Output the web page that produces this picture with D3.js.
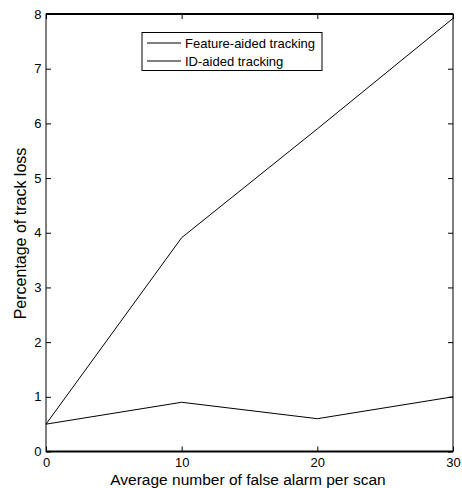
<!DOCTYPE html>
<html><head><meta charset="utf-8">
<script src="https://d3js.org/d3.v7.min.js"></script>
<style>body{margin:0;background:#fff}text{font-family:"Liberation Sans",Arial,sans-serif}</style>
</head><body><svg id="c" width="462" height="488"></svg>
<script>
const xValues = [0, 10, 20, 30];
const featureAided = [0.5, 3.91, 5.9, 7.92];
const idAided = [0.5, 0.9, 0.6, 1.0];
const xTicks = [0, 10, 20, 30];
const yTicks = [0, 1, 2, 3, 4, 5, 6, 7, 8];
const seriesNames = ["Feature-aided tracking", "ID-aided tracking"];

const svg = d3.select("#c");
const L = 46, R = 453, T = 14, B = 451.5;
const x = d3.scaleLinear().domain([0, 30]).range([L, R]);
const y = d3.scaleLinear().domain([0, 8]).range([B, T]);
const fs = 13;

const g = svg.append("g");
g.append("rect").attr("x", L).attr("y", T).attr("width", R - L).attr("height", B - T)
  .attr("fill", "none").attr("stroke", "#000").attr("stroke-width", 1);
g.append("line").attr("x1", L).attr("x2", R).attr("y1", T).attr("y2", T).attr("stroke", "#000").attr("stroke-width", 2);
g.append("line").attr("x1", L).attr("x2", R).attr("y1", B).attr("y2", B).attr("stroke", "#000").attr("stroke-width", 2);

const tl = 5;
const xb = svg.append("g").attr("transform", `translate(0,${B})`)
  .call(d3.axisBottom(x).tickValues(xTicks).tickSize(-tl).tickPadding(6));
const xt = svg.append("g").attr("transform", `translate(0,${T})`)
  .call(d3.axisTop(x).tickValues(xTicks).tickSize(-tl).tickFormat(""));
const yl = svg.append("g").attr("transform", `translate(${L},0)`)
  .call(d3.axisLeft(y).tickValues(yTicks).tickSize(-tl).tickPadding(4.5));
const yr = svg.append("g").attr("transform", `translate(${R},0)`)
  .call(d3.axisRight(y).tickValues(yTicks).tickSize(-tl).tickFormat(""));
[xb, xt, yl, yr].forEach(a => {
  a.select(".domain").remove();
  a.selectAll("line").attr("stroke", "#000");
  a.selectAll("text").attr("fill", "#000").style("font-size", fs + "px").style("font-family", '"Liberation Sans",Arial,sans-serif');
});

const line = d3.line().x((d, i) => x(xValues[i])).y(d => y(d));
[featureAided, idAided].forEach(s => {
  svg.append("path").datum(s).attr("d", line).attr("fill", "none").attr("stroke", "#000").attr("stroke-width", 1);
});

svg.append("text").attr("x", 248).attr("y", 485).attr("text-anchor", "middle")
  .style("font-size", "15.5px").text("Average number of false alarm per scan");
svg.append("text").attr("transform", `translate(25.5,233.5) rotate(-90)`).attr("text-anchor", "middle")
  .style("font-size", "16px").text("Percentage of track loss");

const lg = svg.append("g");
lg.append("rect").attr("x", 142).attr("y", 32.5).attr("width", 180).attr("height", 38)
  .attr("fill", "#fff").attr("stroke", "#000").attr("stroke-width", 1);
seriesNames.forEach((n, i) => {
  const yy = 43 + i * 18;
  lg.append("line").attr("x1", 147).attr("x2", 181).attr("y1", yy).attr("y2", yy).attr("stroke", "#000");
  lg.append("text").attr("x", 185).attr("y", yy + 4.5).style("font-size", "13px").text(n);
});
</script></body></html>
